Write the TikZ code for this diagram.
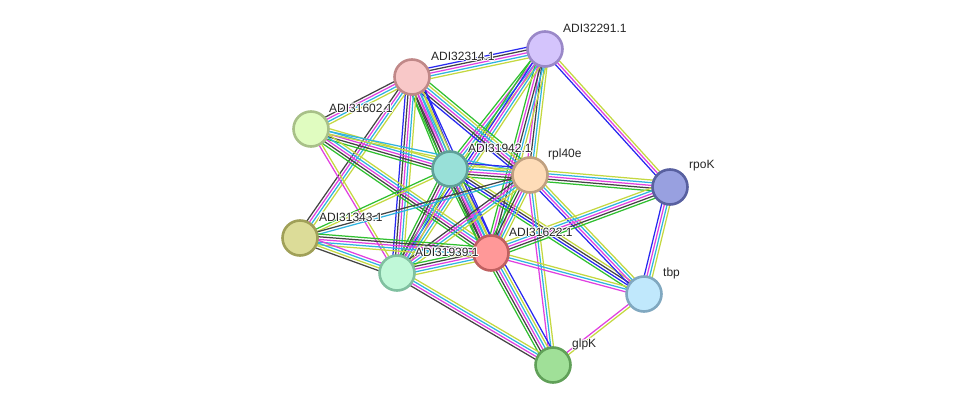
\documentclass[tikz,border=0pt]{standalone}
\usepackage{fontspec}
\setmainfont{Liberation Sans}
\usetikzlibrary{calc,backgrounds}
\definecolor{eY}{HTML}{C4D840}
\definecolor{eC}{HTML}{30B4E0}
\definecolor{eM}{HTML}{E040E0}
\definecolor{eK}{HTML}{444444}
\definecolor{eB}{HTML}{2828F0}
\definecolor{eG}{HTML}{30C030}
\definecolor{fA}{HTML}{D4C4FC}\definecolor{dA}{HTML}{9A88C8}
\definecolor{fP}{HTML}{F8C8C8}\definecolor{dP}{HTML}{C08888}
\definecolor{fQ}{HTML}{E0FCC0}\definecolor{dQ}{HTML}{A8C088}
\definecolor{fT}{HTML}{98E0D8}\definecolor{dT}{HTML}{5FA098}
\definecolor{fR}{HTML}{FEDCB8}\definecolor{dR}{HTML}{C0A080}
\definecolor{fK}{HTML}{98A0E0}\definecolor{dK}{HTML}{5860A0}
\definecolor{fS}{HTML}{DCDC98}\definecolor{dS}{HTML}{A0A058}
\definecolor{fF}{HTML}{FF9898}\definecolor{dF}{HTML}{C06060}
\definecolor{fN}{HTML}{C0F8D8}\definecolor{dN}{HTML}{80C0A0}
\definecolor{fB}{HTML}{C0E8FC}\definecolor{dB}{HTML}{80A8C0}
\definecolor{fL}{HTML}{A0E098}\definecolor{dL}{HTML}{60A058}
\newcommand{\sedge}[3]{%
  \foreach \c [count=\i] in {#3} {\xdef\ncount{\i}}%
  \foreach \c [count=\i] in {#3} {%
    \pgfmathsetmacro\off{(\i-(\ncount+1)/2)*2.7}%
    \draw[edgeline, color=\c] ($(#1)!\off pt!90:(#2)$) -- ($(#2)!\off pt!-90:(#1)$);
  }%
}
\newcommand{\hw}[3]{\rlap{\color{white}\hspace{#1}\raisebox{#2}{#3}}}
\newcommand{\halo}[1]{\leavevmode\hw{1pt}{0pt}{#1}\hw{-1pt}{0pt}{#1}\hw{0pt}{1pt}{#1}\hw{0pt}{-1pt}{#1}\hw{0.8pt}{0.8pt}{#1}\hw{-0.8pt}{0.8pt}{#1}\hw{0.8pt}{-0.8pt}{#1}\hw{-0.8pt}{-0.8pt}{#1}#1}
\tikzset{
  nd/.style={circle, minimum size=35pt, inner sep=0pt, line width=2.6pt},
  lbl/.style={anchor=west, inner sep=0pt, font=\fontsize{12}{14}\selectfont, text=black!85},
  edgeline/.style={line width=1.25pt}
}
\begin{document}
\begin{tikzpicture}[x=1pt,y=-1pt]
\useasboundingbox (0,0) rectangle (976,411);
% nodes
\node[nd, fill=fA, draw=dA] (A) at (545,49) {};
\node[nd, fill=fP, draw=dP] (P) at (412,77) {};
\node[nd, fill=fQ, draw=dQ] (Q) at (311,129) {};
\node[nd, fill=fT, draw=dT] (T) at (450,169) {};
\node[nd, fill=fR, draw=dR] (R) at (530,175) {};
\node[nd, fill=fK, draw=dK] (K) at (670,187) {};
\node[nd, fill=fS, draw=dS] (S) at (300,238) {};
\node[nd, fill=fF, draw=dF] (F) at (491,253) {};
\node[nd, fill=fN, draw=dN] (N) at (397,273) {};
\node[nd, fill=fB, draw=dB] (B) at (644,294) {};
\node[nd, fill=fL, draw=dL] (L) at (553,365) {};
% labels
\node[lbl] (Al) at ($(A)+(18,-21)$) {\halo{ADI32291.1}};
\node[lbl] (Pl) at ($(P)+(19,-21)$) {\halo{ADI32314.1}};
\node[lbl] (Ql) at ($(Q)+(18,-21)$) {\halo{ADI31602.1}};
\node[lbl] (Tl) at ($(T)+(18,-21)$) {\halo{ADI31942.1}};
\node[lbl] (Rl) at ($(R)+(18,-21)$) {\halo{rpl40e}};
\node[lbl] (Kl) at ($(K)+(19,-21)$) {\halo{rpoK}};
\node[lbl] (Sl) at ($(S)+(19,-21)$) {\halo{ADI31343.1}};
\node[lbl] (Fl) at ($(F)+(18,-21)$) {\halo{ADI31622.1}};
\node[lbl] (Nl) at ($(N)+(18,-21)$) {\halo{ADI31939.1}};
\node[lbl] (Bl) at ($(B)+(19,-21)$) {\halo{tbp}};
\node[lbl] (Ll) at ($(L)+(19,-21)$) {\halo{glpK}};
\begin{pgfonlayer}{background}
\sedge{P}{A}{eY,eC,eM,eK,eB}
\sedge{A}{K}{eB,eM,eY}
\sedge{A}{T}{eG,eM,eC,eY}
\sedge{A}{R}{eM,eK,eC,eY}
\sedge{A}{F}{eG,eM,eK,eC,eY}
\sedge{A}{N}{eG,eB,eM,eC,eY}
\sedge{P}{Q}{eK,eM,eC,eY}
\sedge{P}{T}{eG,eK,eM,eC,eY,eB}
\sedge{P}{R}{eB,eK,eM,eC,eY,eG}
\sedge{P}{F}{eG,eK,eM,eC,eY,eB}
\sedge{P}{N}{eB,eK,eM,eC,eY}
\sedge{P}{S}{eK,eM,eC,eY}
\sedge{Q}{T}{eG,eK,eM,eC,eY}
\sedge{Q}{R}{eY,eC}
\sedge{Q}{F}{eG,eK,eM,eC,eY}
\sedge{Q}{N}{eM,eY}
\sedge{T}{R}{eG,eK,eM,eC,eY,eB}
\sedge{T}{F}{eG,eK,eM,eC,eY,eB}
\sedge{T}{N}{eG,eK,eM,eC,eY}
\sedge{T}{S}{eG,eY}
\sedge{T}{B}{eG,eB,eK,eY}
\sedge{R}{K}{eG,eK,eM,eC,eY}
\sedge{R}{F}{eG,eK,eM,eC,eY}
\sedge{R}{N}{eK,eM,eC,eY}
\sedge{R}{S}{eK,eC}
\sedge{R}{B}{eB,eM,eC,eY}
\sedge{R}{L}{eM,eC,eY}
\sedge{F}{K}{eG,eK,eM,eC,eY}
\sedge{F}{N}{eG,eK,eM,eC,eY}
\sedge{F}{S}{eG,eK,eM,eC,eY}
\sedge{F}{B}{eM,eC,eY}
\sedge{F}{L}{eG,eK,eM,eC,eY,eB}
\sedge{N}{S}{eM,eC,eY,eK}
\sedge{N}{L}{eK,eM,eC,eY}
\sedge{K}{B}{eB,eM,eC,eY}
\sedge{B}{L}{eM,eY}
\end{pgfonlayer}
\end{tikzpicture}
\end{document}
